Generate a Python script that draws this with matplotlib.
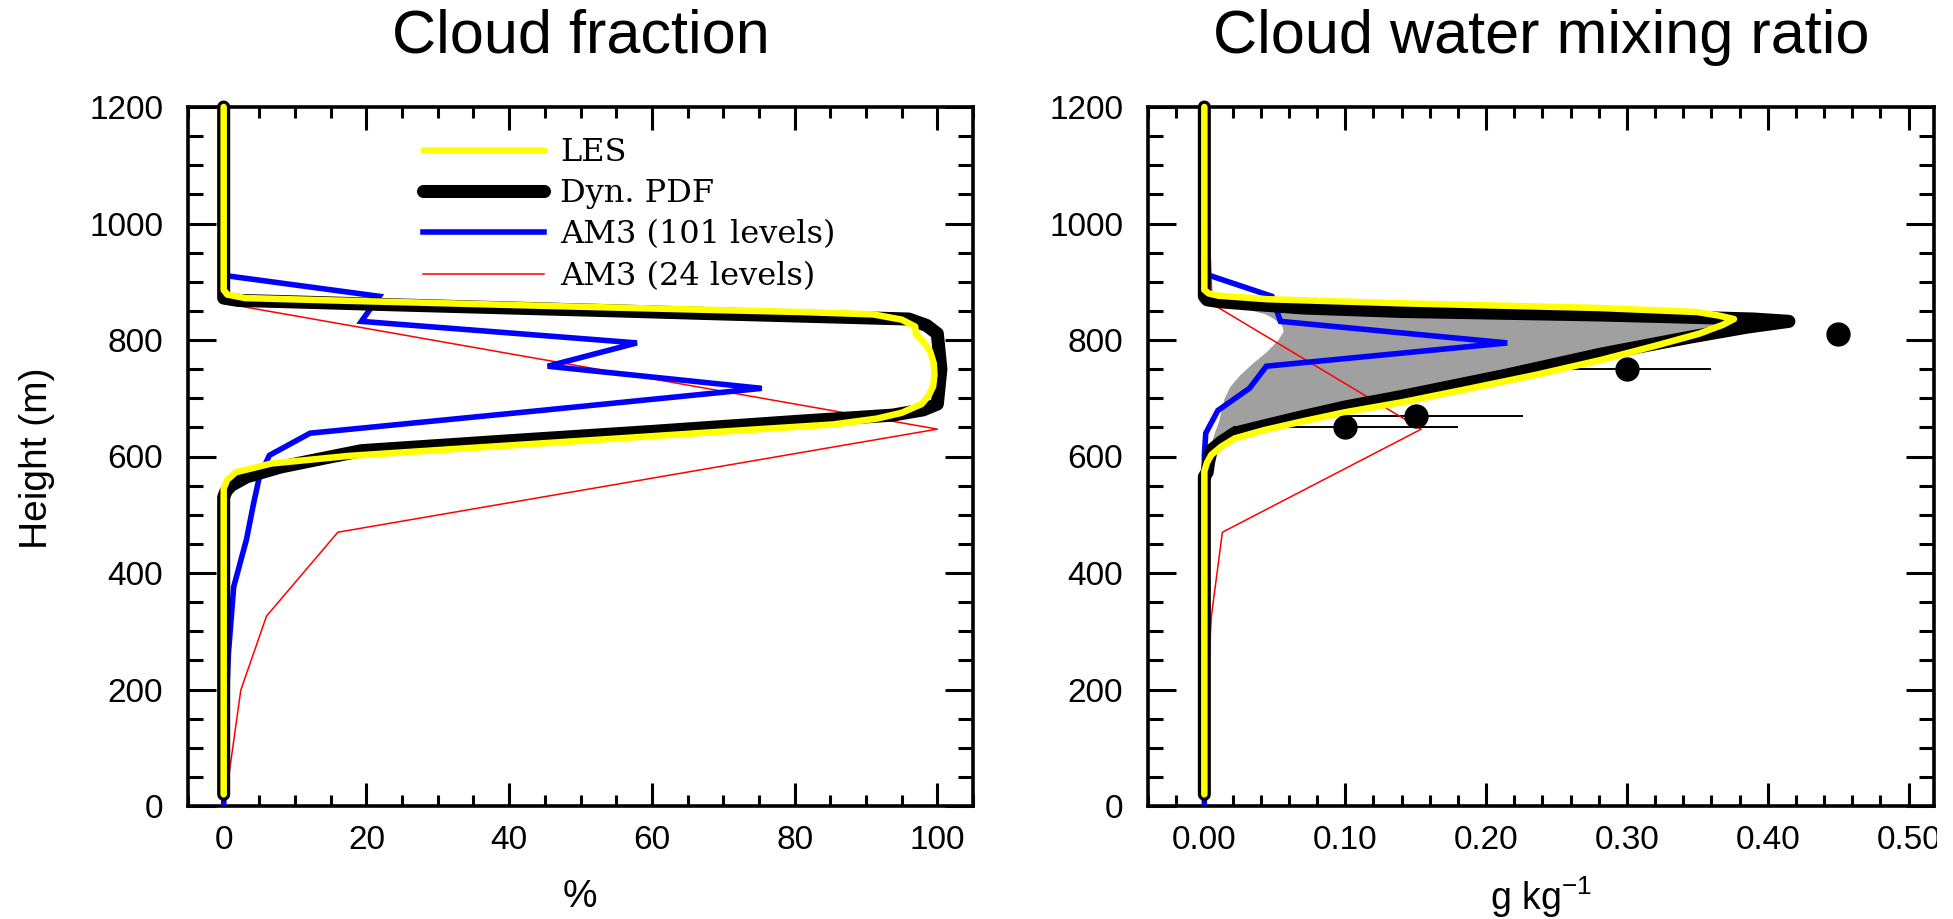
import matplotlib
matplotlib.use('Agg')
import matplotlib.pyplot as plt
from matplotlib.patches import Rectangle
from matplotlib.ticker import MultipleLocator, FormatStrFormatter

plt.rcParams['font.family'] = 'Liberation Sans'
plt.rcParams['mathtext.fontset'] = 'custom'
plt.rcParams['mathtext.rm'] = 'Liberation Sans'

# ---- cloud fraction (%) ----
CF_LES_H = [20, 545, 560, 573, 588, 601, 615, 630, 645, 655, 665, 675, 690, 705, 720, 740,
            760, 780, 795, 810, 823, 835, 844, 848, 852, 858, 864, 868, 872, 878, 886, 1200]
CF_LES = [0, 0, 0.5, 1.7, 6.7, 17.5, 35, 54, 72.6, 85.4, 91.5, 95, 97.8, 98.8, 99.4, 99.6,
          99.5, 99.0, 98.2, 97.0, 96.9, 95, 91, 81, 67, 47, 28, 15, 3, 0.5, 0, 0]

CF_PDF_H = [20, 530, 540, 550, 565, 582, 597, 610, 627, 643, 660, 671, 680, 690, 750, 811,
            825, 836, 840, 845, 850, 855, 860, 865, 868, 872, 1200]
CF_PDF = [0, 0, 0.3, 1, 3.2, 8, 14, 19.3, 40, 60, 80, 93.7, 98, 100, 100.5, 100,
          98.5, 96, 84, 69, 55, 40, 25, 11, 2, 0, 0]

AM3_101_H = [910, 875, 832, 795, 755, 717, 679, 640, 602, 565, 520, 458, 376, 261, 150, 0]
CF_AM3_101 = [0.6, 21.8, 19.3, 57.9, 45.4, 75.4, 44.4, 12.1, 6.4, 5.0, 4.2, 3.2, 1.4, 0.66, 0.3, 0]

AM3_24_H = [1200, 862, 647, 470, 326, 199, 59, 0]
CF_AM3_24 = [0, 0.5, 100, 16.0, 6.0, 2.4, 0.8, 0]

# ---- cloud water mixing ratio (g/kg) ----
QL_LES_H = [20, 575, 590, 603, 617, 631, 645, 660, 676, 693, 715, 740, 766, 790, 811, 826,
            836, 842, 848, 855, 863, 870, 876, 880, 886, 1200]
QL_LES = [0, 0, 0.002, 0.005, 0.012, 0.0215, 0.042, 0.069, 0.10, 0.14, 0.185, 0.235, 0.282,
          0.32, 0.3515, 0.368, 0.376, 0.365, 0.35, 0.28, 0.14, 0.045, 0.01, 0.003, 0, 0]

QL_PDF_H = [20, 565, 573, 590, 601, 611, 625, 640, 654, 668, 685, 703, 740, 776, 805, 822,
            832, 836, 840, 843, 849, 855, 862, 866, 869, 875, 1200]
QL_PDF = [0, 0, 0.002, 0.003, 0.004, 0.005, 0.012, 0.0215, 0.045, 0.069, 0.10, 0.14, 0.215,
          0.282, 0.345, 0.385, 0.415, 0.39, 0.33, 0.28, 0.14, 0.07, 0.03, 0.01, 0.002, 0, 0]

QL_AM3_101 = [0.0047, 0.048, 0.054, 0.215, 0.044, 0.032, 0.0096, 0.001, 0, 0, 0, 0, 0, 0, 0, 0]
QL_AM3_24 = [0, 0.0055, 0.154, 0.0128, 0.005, 0.002, 0.0005, 0]

# LES spread (shaded)
SPREAD_H = [615, 625, 640, 660, 680, 700, 720, 740, 760, 780, 800, 815, 825, 832, 840, 845,
            850, 856, 862, 866]
SPREAD_LO = [0.004, 0.005, 0.007, 0.010, 0.012, 0.014, 0.018, 0.025, 0.034, 0.044, 0.052,
             0.056, 0.055, 0.052, 0.047, 0.043, 0.035, 0.025, 0.012, 0.005]
SPREAD_HI = [0.008, 0.017, 0.03, 0.07, 0.105, 0.15, 0.195, 0.235, 0.27, 0.305, 0.34, 0.37,
             0.395, 0.41, 0.33, 0.22, 0.12, 0.06, 0.025, 0.005]

# observations
OBS_QL = [0.10, 0.15, 0.30, 0.45]
OBS_H = [650, 670, 750, 810]
OBS_ERR = [0.08, 0.076, 0.06, 0.0]

LABELS = ['LES', 'Dyn. PDF', 'AM3 (101 levels)', 'AM3 (24 levels)']

W, H = 1953, 919
fig = plt.figure(figsize=(W / 100, H / 100), dpi=100)
ax1 = fig.add_axes([188 / W, 1 - 806 / H, 785 / W, 699 / H])
ax2 = fig.add_axes([1148 / W, 1 - 806 / H, 786 / W, 699 / H])


def style(ax, xmajor, xminor):
    ax.set_ylim(0, 1200)
    ax.xaxis.set_major_locator(MultipleLocator(xmajor))
    ax.xaxis.set_minor_locator(MultipleLocator(xminor))
    ax.yaxis.set_major_locator(MultipleLocator(200))
    ax.yaxis.set_minor_locator(MultipleLocator(50))
    ax.tick_params(which='both', direction='in', top=True, right=True, width=2.2,
                   labelsize=24)
    ax.tick_params(axis='x', which='major', length=16.5, pad=14)
    ax.tick_params(axis='x', which='minor', length=8)
    ax.tick_params(axis='y', which='major', length=20, pad=18)
    ax.tick_params(axis='y', which='minor', length=11)
    for s in ax.spines.values():
        s.set_linewidth(2.6)


def profiles(ax, les, pdf, am101, am24):
    r, = ax.plot(am24, AM3_24_H, color='#ff0000', lw=1.1, zorder=3)
    b, = ax.plot(am101, AM3_101_H, color='#0000ff', lw=4, zorder=4,
                 solid_joinstyle='miter')
    k, = ax.plot(pdf[0], pdf[1], color='black', lw=9.4, zorder=5,
                 solid_capstyle='round', clip_on=False)
    y, = ax.plot(les[0], les[1], color='#ffff00', lw=4.7, zorder=6,
                 solid_capstyle='round', clip_on=False)
    return y, k, b, r


# left: cloud fraction
hl = profiles(ax1, (CF_LES, CF_LES_H), (CF_PDF, CF_PDF_H), CF_AM3_101, CF_AM3_24)
ax1.set_xlim(-5, 105)
style(ax1, 20, 5)
ax1.legend(hl, LABELS, loc='upper left', bbox_to_anchor=(0.299, 0.957), frameon=False,
           borderpad=0, borderaxespad=0, handlelength=3.8, handletextpad=0.5,
           labelspacing=0.32, prop={'family': 'DejaVu Serif', 'size': 23})

# right: cloud water mixing ratio
ax2.fill_betweenx(SPREAD_H, SPREAD_LO, SPREAD_HI, color='#a0a0a0', lw=0, zorder=1)
ax2.errorbar(OBS_QL, OBS_H, xerr=OBS_ERR, fmt='none', ecolor='black', elinewidth=1.4,
             capsize=0, zorder=2)
profiles(ax2, (QL_LES, QL_LES_H), (QL_PDF, QL_PDF_H), QL_AM3_101, QL_AM3_24)
ax2.plot(OBS_QL, OBS_H, 'o', color='black', ms=16.5, zorder=7)
ax2.set_xlim(-0.04, 0.518)
style(ax2, 0.1, 0.02)
ax2.xaxis.set_major_formatter(FormatStrFormatter('%.2f'))

# titles and axis labels
fig.text(581 / W, 1 - 37 / H, 'Cloud fraction', ha='center', va='center', fontsize=44)
fig.text(1541 / W, 1 - 37 / H, 'Cloud water mixing ratio', ha='center', va='center',
         fontsize=44)
fig.text(37 / W, 1 - 458 / H, 'Height (m)', rotation=90, ha='center', va='center',
         fontsize=28)
fig.text(580 / W, 1 - 897 / H, '%', ha='center', va='center', fontsize=28)
fig.text(1541 / W, 1 - 897 / H, 'g kg$^{-1}$', ha='center', va='center', fontsize=27)

# the source image is cropped just right of the last spine
fig.patches.append(Rectangle((1937 / W, 0), 1 - 1937 / W, 1, transform=fig.transFigure,
                             facecolor='white', edgecolor='none', zorder=10))

fig.savefig('out.png', dpi=100)
